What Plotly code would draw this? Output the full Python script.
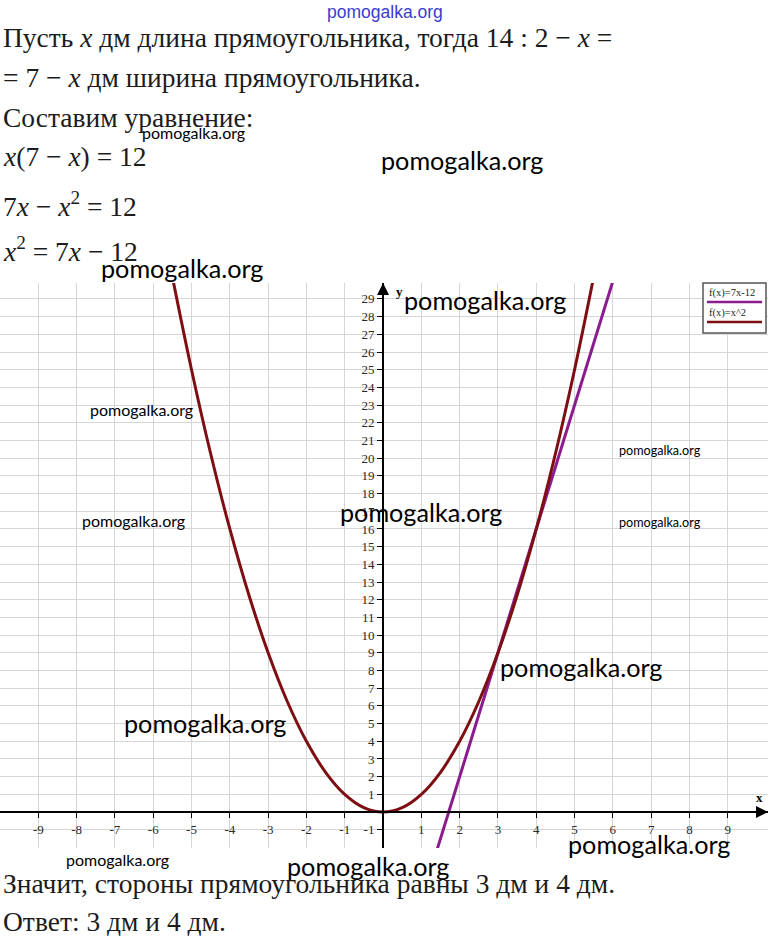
import plotly.graph_objects as go

W, H = 768, 936

# ---- data ----
parab_x = [-5.5, -5.0, -4.5, -4.0, -3.5, -3.0, -2.5, -2.0, -1.5, -1.0, -0.5, 0.0,
           0.5, 1.0, 1.5, 2.0, 2.5, 3.0, 3.5, 4.0, 4.5, 5.0, 5.5]
parab_y = [30.25, 25.0, 20.25, 16.0, 12.25, 9.0, 6.25, 4.0, 2.25, 1.0, 0.25, 0.0,
           0.25, 1.0, 2.25, 4.0, 6.25, 9.0, 12.25, 16.0, 20.25, 25.0, 30.25]
line_x = [1.4, 6.0]
line_y = [-2.2, 30.0]

x_ticks = [-9, -8, -7, -6, -5, -4, -3, -2, -1, 1, 2, 3, 4, 5, 6, 7, 8, 9]
x_tick_labels = ["-9", "-8", "-7", "-6", "-5", "-4", "-3", "-2", "-1",
                 "1", "2", "3", "4", "5", "6", "7", "8", "9"]
y_ticks = [-1] + list(range(1, 30))
y_tick_labels = ["-1"] + [str(v) for v in range(1, 30)]

x_range = [-10.0, 10.05]
y_range = [-2.03, 29.9]

# plot area in pixels (top, bottom)
plot_top_px, plot_bottom_px = 283, 848

def px(x, y):
    return x / W, 1 - y / H

dom_y = [1 - plot_bottom_px / H, 1 - plot_top_px / H]
y0_paper = dom_y[0] + (0 - y_range[0]) / (y_range[1] - y_range[0]) * (dom_y[1] - dom_y[0])
x0_paper = (0 - x_range[0]) / (x_range[1] - x_range[0])

PARAB_COLOR = "#7d0f12"
LINE_COLOR = "#8a1c8e"
SERIF = "Liberation Serif, Times New Roman, serif"
SANS = "Lato, Open Sans, sans-serif"

fig = go.Figure()
fig.add_trace(go.Scatter(x=line_x, y=line_y, mode="lines",
                         line=dict(color=LINE_COLOR, width=3), name="f(x)=7x-12"))
fig.add_trace(go.Scatter(x=parab_x, y=parab_y, mode="lines",
                         line=dict(color=PARAB_COLOR, width=3, shape="spline"), name="f(x)=x^2"))

axis_common = dict(showgrid=True, gridcolor="#d6d6d6", gridwidth=1, zeroline=False,
                   showline=True, linecolor="black", linewidth=2, ticks="outside",
                   ticklen=5, tickwidth=1.2, tickcolor="black", automargin=False,
                   tickfont=dict(family=SERIF, size=13, color="#2a2a2a"),
                   fixedrange=True)

fig.update_layout(
    width=W, height=H,
    margin=dict(l=0, r=0, t=0, b=0),
    paper_bgcolor="white", plot_bgcolor="white",
    showlegend=False,
    xaxis=dict(range=x_range, domain=[0, 1], anchor="free", position=y0_paper,
               tickvals=x_ticks, ticktext=x_tick_labels, **axis_common),
    yaxis=dict(range=y_range, domain=dom_y, anchor="free", position=x0_paper,
               tickvals=y_ticks, ticktext=y_tick_labels, **axis_common),
)

annotations = []
shapes = []

# axis arrows
annotations.append(dict(x=x_range[1], y=0, xref="x", yref="y", text="", showarrow=True,
                        ax=-14, ay=0, arrowhead=2, arrowsize=1.2, arrowwidth=2, arrowcolor="black"))
annotations.append(dict(x=0, y=y_range[1], xref="x", yref="y", text="", showarrow=True,
                        ax=0, ay=14, arrowhead=2, arrowsize=1.2, arrowwidth=2, arrowcolor="black"))
# axis names
for t, (xx, yy) in [("x", (759, 797)), ("y", (399, 291))]:
    xp, yp = px(xx, yy)
    annotations.append(dict(x=xp, y=yp, xref="paper", yref="paper", text="<b>%s</b>" % t,
                            showarrow=False, font=dict(family=SERIF, size=13, color="black"),
                            xanchor="center", yanchor="middle"))

# body text
text_lines = [
    ("Пусть <i>x</i> дм длина прямоугольника, тогда 14 : 2 − <i>x</i> =", 38),
    ("= 7 − <i>x</i> дм ширина прямоугольника.", 77),
    ("Составим уравнение:", 117),
    ("<i>x</i>(7 − <i>x</i>) = 12", 157),
    ("7<i>x</i> − <i>x</i><sup>2</sup> = 12", 204),
    ("<i>x</i><sup>2</sup> = 7<i>x</i> − 12", 250),
    ("Значит, стороны прямоугольника равны 3 дм и 4 дм.", 883),
    ("Ответ: 3 дм и 4 дм.", 921),
]
for t, yy in text_lines:
    xp, yp = px(1, yy)
    annotations.append(dict(x=xp, y=yp, xref="paper", yref="paper", text=t, showarrow=False,
                            xanchor="left", yanchor="middle",
                            font=dict(family=SERIF, size=27.5, color="#1c1c1c")))

# legend box
lx0, ly0 = px(703, 333)
lx1, ly1 = px(766, 283)
shapes.append(dict(type="rect", xref="paper", yref="paper", x0=lx0, y0=ly0, x1=lx1, y1=ly1,
                   line=dict(color="#555555", width=1.5), fillcolor="white"))
for t, ty, col, uy in [("f(x)=7x-12", 293, LINE_COLOR, 302), ("f(x)=x^2", 313, PARAB_COLOR, 322)]:
    xp, yp = px(707, ty)
    annotations.append(dict(x=xp, y=yp, xref="paper", yref="paper", text=t, showarrow=False,
                            xanchor="left", yanchor="middle",
                            font=dict(family=SERIF, size=10.5, color="#222222")))
    a0, b0 = px(707, uy)
    a1, _ = px(762, uy)
    shapes.append(dict(type="line", xref="paper", yref="paper", x0=a0, y0=b0, x1=a1, y1=b0,
                       line=dict(color=col, width=2.5)))

# watermarks
watermarks = [
    (462, 160, 25.2), (182, 268, 25.2), (485, 300, 25.2), (421, 512, 25.2), (581, 667, 25.2),
    (205, 723, 25.2), (649, 844, 25.2), (368, 866, 25.2),
    (193, 133, 16), (141, 409, 16), (133, 520, 16), (117, 859, 16),
    (660, 450, 12.6), (660, 522, 12.6),
]
for xx, yy, sz in watermarks:
    xp, yp = px(xx, yy)
    annotations.append(dict(x=xp, y=yp, xref="paper", yref="paper", text="pomogalka.org",
                            showarrow=False, xanchor="center", yanchor="middle",
                            font=dict(family=SANS, size=sz, color="black")))
xp, yp = px(385, 12)
annotations.append(dict(x=xp, y=yp, xref="paper", yref="paper", text="pomogalka.org",
                        showarrow=False, xanchor="center", yanchor="middle",
                        font=dict(family="Liberation Sans Narrow, Liberation Sans, sans-serif",
                                  size=17.5, color="#3b3bd0")))

fig.update_layout(annotations=annotations, shapes=shapes)
fig.write_html("out.html", config={"displayModeBar": False},
               post_script="document.body.style.margin='0px';document.body.style.overflow='hidden';")
